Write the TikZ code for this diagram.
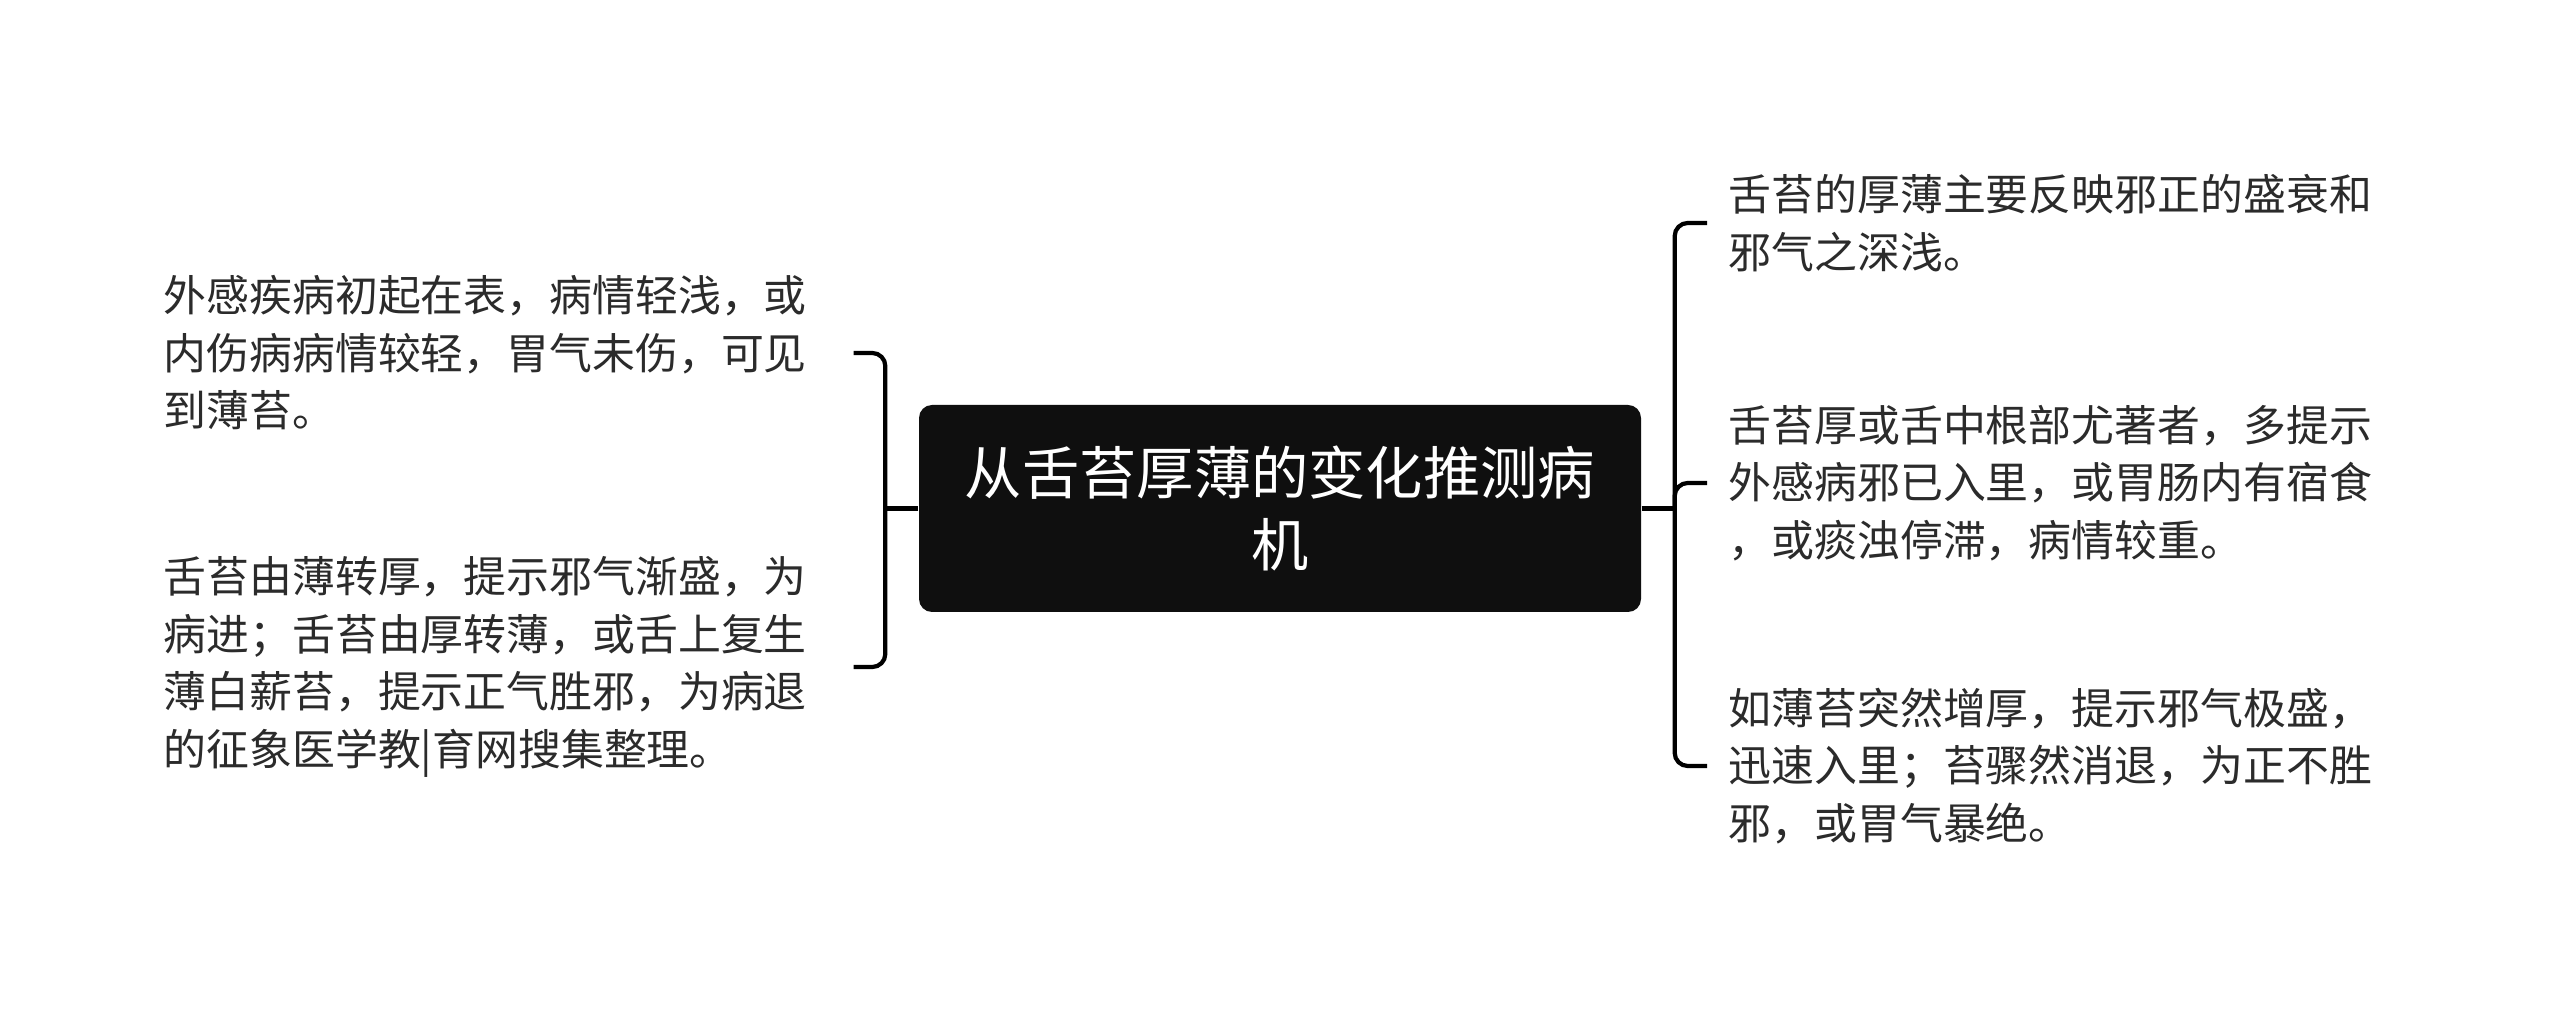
\documentclass[tikz,border=0pt]{standalone}
\usepackage{fontspec}
\setmainfont{Noto Sans CJK SC}
\definecolor{mapBlack}{HTML}{0F0F0F}
\definecolor{mapText}{HTML}{2B2B2B}
\usepackage{tikz}
\usetikzlibrary{positioning, calc}
\tikzset{
    topic node/.style={rectangle, fill=mapBlack, rounded corners=0.13cm, text=white, align=center,
        minimum width=7.22cm, minimum height=2.07cm, inner sep=0pt, font=\fontsize{16.3pt}{20.7pt}\selectfont},
    leaf node/.style={rectangle, inner sep=0pt, align=left, text=mapText, font=\fontsize{12.2pt}{16.35pt}\selectfont},
    link style/.style={line width=1.2pt, black, rounded corners=0.13cm},
}

\begin{document}
\begin{tikzpicture}
        % Page frame
        \fill[white] (0,0) rectangle (25.6,-10.17);
        \useasboundingbox (0,0) rectangle (25.6,-10.17);

        % Nodes
        \node[topic node] (topic) at (12.80,-5.085) {从舌苔厚薄的变化推测病\\机};

        \node[leaf node, anchor=west] (early) at (1.63,-3.53) {外感疾病初起在表，病情轻浅，或\\内伤病病情较轻，胃气未伤，可见\\到薄苔。};
        \node[leaf node, anchor=west] (change) at (1.63,-6.67) {舌苔由薄转厚，提示邪气渐盛，为\\病进；舌苔由厚转薄，或舌上复生\\薄白薪苔，提示正气胜邪，为病退\\的征象医学教|育网搜集整理。};

        \node[leaf node, anchor=west] (reflect) at (17.28,-2.23) {舌苔的厚薄主要反映邪正的盛衰和\\邪气之深浅。};
        \node[leaf node, anchor=west] (thick) at (17.28,-4.83) {舌苔厚或舌中根部尤著者，多提示\\外感病邪已入里，或胃肠内有宿食\\，或痰浊停滞，病情较重。};
        \node[leaf node, anchor=west] (sudden) at (17.28,-7.66) {如薄苔突然增厚，提示邪气极盛，\\迅速入里；苔骤然消退，为正不胜\\邪，或胃气暴绝。};

        % Forks
        \coordinate (lfork) at ($(topic.west)+(-0.33,0)$);
        \coordinate (rfork) at ($(topic.east)+(0.33,0)$);

        % Arrows
        \draw[link style] (topic.west) -- (lfork);
        \draw[link style] ([xshift=4.6mm]early.east) -| (lfork) |- ([xshift=4.6mm]change.east);

        \draw[link style] (topic.east) -- (rfork);
        \draw[link style] ([xshift=-2.1mm]reflect.west) -| (rfork) |- ([xshift=-2.1mm]sudden.west);
        \draw[link style] ([xshift=-2.1mm]thick.west) -| (rfork);
    \end{tikzpicture}
\end{document}
